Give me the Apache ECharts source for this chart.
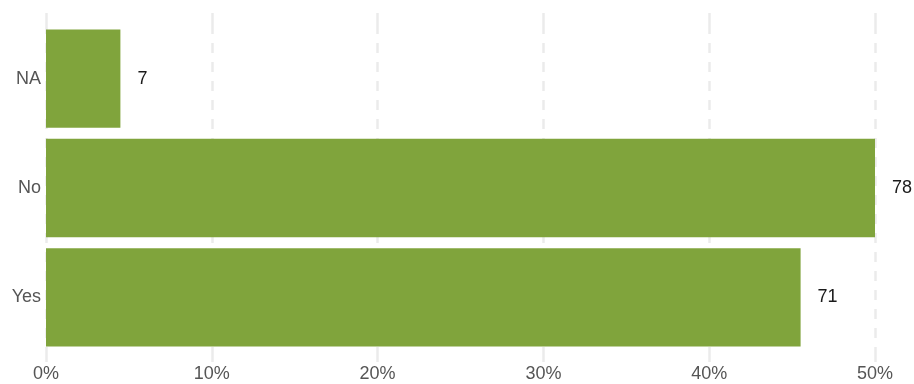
<!DOCTYPE html>
<html>
<head>
<meta charset="utf-8">
<script src="https://cdn.jsdelivr.net/npm/echarts@6/dist/echarts.min.js"></script>
<style>
  html, body { margin: 0; padding: 0; background: #ffffff; }
  #chart { width: 914px; height: 384px; }
</style>
</head>
<body>
<div id="chart"></div>
<script>
// Answer categories, listed bottom to top
const categories = ['Yes', 'No', 'NA'];
// Number of responses per answer
const counts = [71, 78, 7];
// Percent axis ticks
const percentTicks = [0, 10, 20, 30, 40, 50];

const total = counts.reduce((a, b) => a + b, 0);
const shares = counts.map(c => (c / total) * 100);

const gridLineColor = '#ebebeb';
const font = '"Liberation Sans", Arial, sans-serif';

const chart = echarts.init(document.getElementById('chart'), null, { renderer: 'canvas' });

const xMin = percentTicks[0];
const xMax = percentTicks[percentTicks.length - 1];
const xStep = percentTicks[1] - percentTicks[0];

chart.setOption({
  animation: false,
  grid: { left: 46, right: 39, top: 24, bottom: 32, containLabel: false },
  xAxis: [
    {
      type: 'value',
      position: 'bottom',
      min: xMin,
      max: xMax,
      interval: xStep,
      axisLine: { show: false },
      axisTick: { show: true, length: 10, lineStyle: { color: gridLineColor, width: 2.5 } },
      axisLabel: {
        formatter: v => v + '%',
        color: '#555555',
        fontSize: 18,
        fontFamily: font,
        margin: 13
      },
      splitLine: {
        show: true,
        lineStyle: { color: gridLineColor, width: 2.5, type: [10, 9], dashOffset: 0 }
      }
    },
    {
      type: 'value',
      position: 'top',
      min: xMin,
      max: xMax,
      interval: xStep,
      axisLine: { show: false },
      axisTick: { show: true, length: 11, lineStyle: { color: gridLineColor, width: 2.5 } },
      axisLabel: { show: false },
      splitLine: { show: false }
    }
  ],
  yAxis: {
    type: 'category',
    data: categories,
    axisLine: { show: false },
    axisTick: { show: false },
    axisLabel: {
      color: '#555555',
      fontSize: 18,
      fontFamily: font,
      margin: 5
    }
  },
  series: [
    {
      type: 'bar',
      xAxisIndex: 0,
      data: shares,
      barCategoryGap: '10%',
      itemStyle: { color: '#80a43c' },
      label: {
        show: true,
        position: 'right',
        distance: 17,
        color: '#1a1a1a',
        fontSize: 18,
        fontFamily: font,
        formatter: p => String(counts[p.dataIndex])
      }
    }
  ]
});
</script>
</body>
</html>
